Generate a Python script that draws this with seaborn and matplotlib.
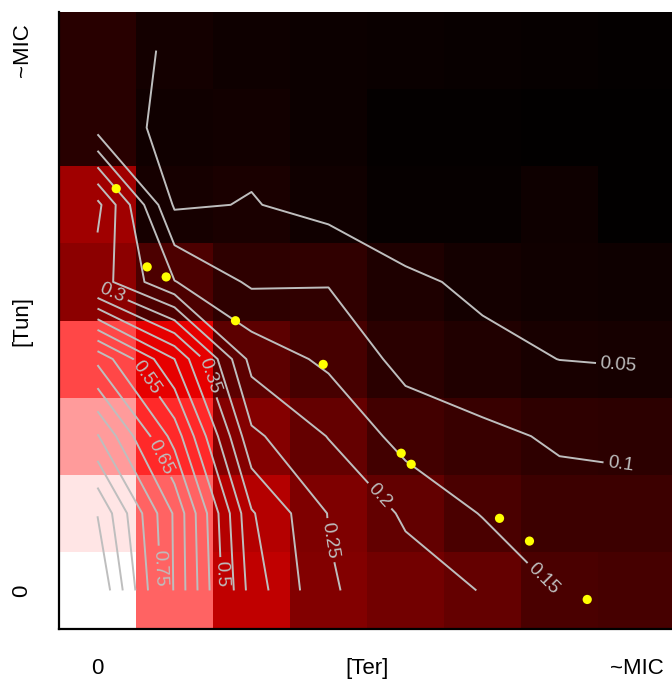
import numpy as np
import pandas as pd
import matplotlib
matplotlib.use("Agg")
import matplotlib.pyplot as plt
import seaborn as sns
from matplotlib.colors import LinearSegmentedColormap

# ---------------- data ----------------
# growth fraction on an 8x8 grid: rows = [Tun] steps (bottom -> top), cols = [Ter] steps (left -> right)
growth_j0 = [1.000, 0.695, 0.377, 0.255, 0.223, 0.198, 0.147, 0.137]
growth_j1 = [0.948, 0.693, 0.355, 0.248, 0.193, 0.147, 0.120, 0.118]
growth_j2 = [0.804, 0.580, 0.261, 0.198, 0.130, 0.112, 0.093, 0.088]
growth_j3 = [0.637, 0.450, 0.182, 0.139, 0.084, 0.063, 0.0495, 0.046]
growth_j4 = [0.275, 0.152, 0.092, 0.097, 0.059, 0.040, 0.035, 0.030]
growth_j5 = [0.314, 0.043, 0.0526, 0.034, 0.015, 0.012, 0.028, 0.004]
growth_j6 = [0.080, 0.033, 0.037, 0.026, 0.010, 0.008, 0.006, 0.004]
growth_j7 = [0.082, 0.040, 0.030, 0.024, 0.020, 0.016, 0.012, 0.010]

x_tick_labels = ["0", "[Ter]", "~MIC"]
y_tick_labels = ["0", "[Tun]", "~MIC"]

contour_levels = [round(0.05 * k, 2) for k in range(1, 20)]
labelled_levels = [0.05, 0.1, 0.15, 0.2, 0.25, 0.3, 0.35, 0.5, 0.55, 0.65, 0.75]

# isobole points (grid-step units, 0 = first cell centre)
iso_ter = [0.243, 0.645, 0.892, 1.792, 2.931, 3.944, 4.074, 5.221, 5.610, 6.360]
iso_tun = [5.210, 4.195, 4.065, 3.497, 2.931, 1.779, 1.636, 0.935, 0.640, -0.117]

# ---------------- build ----------------
Z = np.array([growth_j0, growth_j1, growth_j2, growth_j3,
              growth_j4, growth_j5, growth_j6, growth_j7])
n = Z.shape[0]
Z_top = Z[::-1]                       # top row first, as heatmap draws
df = pd.DataFrame(Z_top)

cmap = LinearSegmentedColormap.from_list("bkrw", ["black", "red", "white"])

plt.rcParams['font.family'] = ['Liberation Sans', 'DejaVu Sans']

fig = plt.figure(figsize=(6.72, 6.90), dpi=100)
ax = fig.add_axes([59 / 672, 61 / 690, 616 / 672, 617 / 690])

sns.heatmap(df, ax=ax, cmap=cmap, vmin=0, vmax=1, cbar=False,
            xticklabels=False, yticklabels=False, square=False)

xc = np.arange(n) + 0.5
yc = np.arange(n) + 0.5
line_kw = dict(colors="#BEBEBE", linewidths=1.4)
plain_levels = [lv for lv in contour_levels if lv not in labelled_levels]
ax.contour(xc, yc, Z_top, levels=plain_levels, **line_kw)
cs_lab = ax.contour(xc, yc, Z_top, levels=labelled_levels, **line_kw)

# label anchor points (heatmap coords)
label_pos = [(7.26, 4.62), (7.29, 5.88), (6.27, 7.37), (4.17, 6.27),
             (3.47, 6.86), (0.68, 3.67), (1.99, 4.71), (2.09, 7.29),
             (1.13, 4.75), (1.32, 5.77), (1.30, 7.21)]
ax.clabel(cs_lab, manual=label_pos, inline=True,
          fontsize=13.5, colors="#BEBEBE", fmt=lambda v: f"{v:g}",
          inline_spacing=4)

ax.scatter(np.array(iso_ter) + 0.5, (n - 0.5) - np.array(iso_tun),
           s=44, color="#FFFF00", edgecolors="none", zorder=5)

ax.set_xlim(0, n)
ax.set_ylim(n, 0)
ax.set_xticks([0.5, n / 2, n - 0.5])
ax.set_xticklabels(x_tick_labels, fontsize=16)
ax.set_yticks([n - 0.5, n / 2, 0.5])
ax.set_yticklabels(y_tick_labels, fontsize=16, rotation=90, va="center")
ax.tick_params(axis="x", length=0, pad=21)
ax.tick_params(axis="y", length=0, pad=19)

for side in ["left", "bottom"]:
    ax.spines[side].set_visible(True)
    ax.spines[side].set_color("black")
    ax.spines[side].set_linewidth(1.6)
    ax.spines[side].set_zorder(10)
for side in ["top", "right"]:
    ax.spines[side].set_visible(False)

fig.savefig("out.png", dpi=100)
